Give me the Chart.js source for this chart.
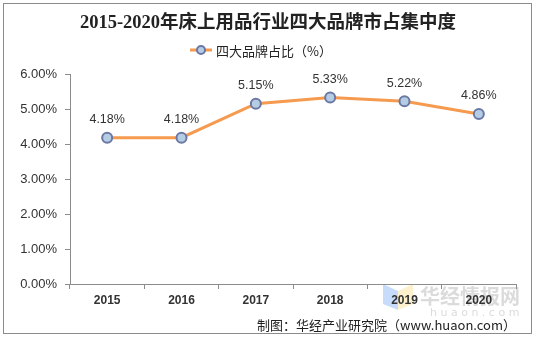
<!DOCTYPE html>
<html><head><meta charset="utf-8">
<script src="https://cdn.jsdelivr.net/npm/chart.js@4/dist/chart.umd.min.js"></script>
<style>html,body{margin:0;padding:0;background:#fff}#wrap{width:537px;height:339px;position:relative}</style>
</head><body><div id="wrap"><canvas id="c" width="537" height="339"></canvas></div>
<script>
const categories = ['2015','2016','2017','2018','2019','2020'];
const shareValues = [4.18, 4.18, 5.15, 5.33, 5.22, 4.86];
const seriesName = '四大品牌占比（%）';
const chartTitle = '2015-2020年床上用品行业四大品牌市占集中度';
const sourceText = '制图：华经产业研究院（www.huaon.com）';

function fitFont(ctx, text, weight, family, targetW){
  let s = 10;
  for (let f = 8; f < 40; f += 0.5){
    ctx.font = weight + ' ' + f + 'px ' + family;
    if (ctx.measureText(text).width > targetW) break;
    s = f;
  }
  return weight + ' ' + s + 'px ' + family;
}

const decor = {
  id: 'decor',
  beforeDraw(chart){
    const ctx = chart.ctx;
    ctx.save();
    ctx.fillStyle = '#fff';
    ctx.fillRect(0,0,537,339);
    // watermark
    ctx.globalAlpha = 0.35;
    ctx.fillStyle = '#5b9bf0';
    ctx.beginPath(); ctx.moveTo(383,284); ctx.lineTo(398,291); ctx.lineTo(398,310); ctx.lineTo(383,304); ctx.closePath(); ctx.fill();
    ctx.fillStyle = '#f5d76e';
    ctx.beginPath(); ctx.moveTo(398,291); ctx.lineTo(413,284); ctx.lineTo(413,304); ctx.lineTo(398,310); ctx.closePath(); ctx.fill();
    ctx.globalAlpha = 0.3;
    ctx.fillStyle = '#888';
    ctx.textBaseline = 'middle';
    ctx.textAlign = 'left';
    ctx.font = fitFont(ctx, '华经情报网', 'bold', '"Noto Sans CJK SC"', 100);
    ctx.fillText('华经情报网', 420, 296);
    ctx.font = '11px "DejaVu Sans"';
    ctx.fillText('h u a o n . c o m', 430, 313);
    ctx.restore();
  },
  afterDraw(chart){
    const ctx = chart.ctx;
    ctx.save();
    // border
    ctx.strokeStyle = '#8c8c8c';
    ctx.lineWidth = 1;
    ctx.strokeRect(3.5,3.5,528,330);
    // title
    ctx.fillStyle = '#222';
    ctx.textAlign = 'center';
    ctx.textBaseline = 'middle';
    ctx.font = fitFont(ctx, chartTitle, 'bold', '"Liberation Serif","Noto Sans CJK SC"', 386);
    ctx.fillText(chartTitle, 268, 23);
    // legend
    const ds = chart.data.datasets[0];
    ctx.strokeStyle = ds.borderColor; ctx.lineWidth = 3;
    ctx.beginPath(); ctx.moveTo(190,50); ctx.lineTo(212,50); ctx.stroke();
    ctx.beginPath(); ctx.arc(201,50,4,0,Math.PI*2);
    ctx.fillStyle = ds.pointBackgroundColor; ctx.fill();
    ctx.strokeStyle = ds.pointBorderColor; ctx.lineWidth = 2; ctx.stroke();
    ctx.fillStyle = '#222';
    ctx.textAlign = 'left';
    ctx.font = fitFont(ctx, seriesName, 'normal', '"Noto Sans CJK SC"', 116);
    ctx.fillText(seriesName, 216, 51);
    // data labels
    const meta = chart.getDatasetMeta(0);
    ctx.font = '12.5px "Liberation Sans", Arial';
    ctx.textAlign = 'center';
    ctx.fillStyle = '#333';
    meta.data.forEach((pt,i)=>{
      ctx.fillText(shareValues[i].toFixed(2)+'%', pt.x, pt.y - 18);
    });
    // source
    ctx.fillStyle = '#222';
    ctx.textAlign = 'right';
    ctx.font = fitFont(ctx, sourceText, 'normal', '"Noto Sans CJK SC"', 266);
    ctx.fillText(sourceText, 516, 325);
    ctx.restore();
  }
};

new Chart(document.getElementById('c'), {
  type: 'line',
  data: {
    labels: categories,
    datasets: [{
      label: seriesName,
      data: shareValues,
      borderColor: '#f59a4f',
      borderWidth: 3,
      pointBackgroundColor: '#b4cde4',
      pointBorderColor: '#6a78a3',
      pointBorderWidth: 2,
      pointRadius: 5,
      tension: 0,
      fill: false
    }]
  },
  options: {
    responsive: false,
    animation: false,
    devicePixelRatio: 1,
    layout: { padding: { left: 0, right: 21, top: 74, bottom: 0 } },
    plugins: { legend: { display: false }, title: { display: false }, tooltip: { enabled: false } },
    scales: {
      x: {
        offset: true,
        afterFit(s){ s.height = 55; },
        grid: { drawOnChartArea: false, offset: true, tickLength: 5, color: '#8c8c8c' },
        border: { color: '#8c8c8c', width: 1 },
        ticks: { font: { family: '"Liberation Sans", Arial', size: 12, weight: 'bold' }, color: '#333', padding: 4, maxRotation: 0 }
      },
      y: {
        min: 0, max: 6,
        afterFit(s){ s.width = 70; },
        grid: { drawOnChartArea: false, tickLength: 5, color: '#8c8c8c' },
        border: { color: '#8c8c8c', width: 1 },
        ticks: { stepSize: 1, padding: 8, font: { family: '"Liberation Sans", Arial', size: 13 }, color: '#333',
          callback: v => v.toFixed(2) + '%' }
      }
    }
  },
  plugins: [decor]
});
</script></body></html>
